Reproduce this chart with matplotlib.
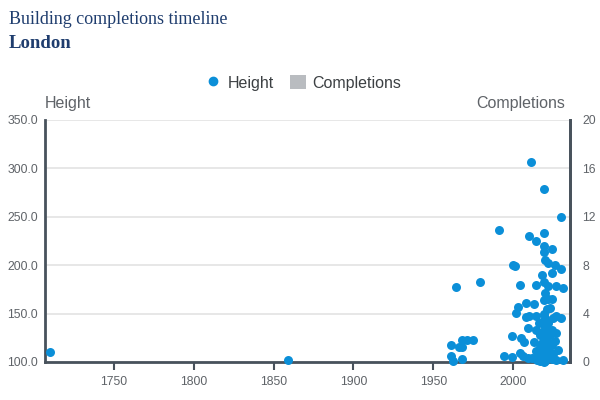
import matplotlib.pyplot as plt
from matplotlib.lines import Line2D
from matplotlib.patches import Patch

# Datos (año de terminación, altura en m)
years = [1710, 1859, 1961, 1961, 1962, 1964, 1966, 1968, 1968, 1968, 1971, 1975, 1979,
         1991, 1994, 1999, 1999, 2000, 2001, 2002, 2003, 2004, 2004, 2005, 2006, 2007,
         2008, 2008, 2009, 2009, 2010, 2010, 2011, 2012, 2013, 2013, 2014, 2014, 2014,
         2014, 2014, 2015, 2016, 2016, 2017, 2017, 2017, 2018, 2018, 2018, 2018, 2018,
         2019, 2019, 2019, 2019, 2019, 2019, 2019, 2019, 2019, 2019, 2019, 2020, 2020,
         2020, 2020, 2020, 2020, 2020, 2021, 2021, 2021, 2021, 2022, 2022, 2022, 2022,
         2022, 2022, 2023, 2023, 2023, 2024, 2024, 2024, 2024, 2024, 2024, 2025, 2025,
         2026, 2026, 2027, 2027, 2027, 2027, 2028, 2030, 2030, 2030, 2031, 2031]
heights = [110, 102, 106, 118, 101, 177, 116, 116, 123, 103, 123, 123, 183,
           236, 106, 105, 127, 200, 199, 151, 157, 180, 109, 125, 106, 121,
           161, 147, 135, 104, 230, 148, 307, 104, 160, 121, 225, 180, 148,
           133, 111, 102, 140, 108, 128, 116, 101, 190, 141, 131, 120, 106,
           279, 233, 220, 214, 183, 164, 150, 125, 113, 103, 100, 205, 171,
           145, 136, 118, 108, 101, 155, 130, 112, 104, 202, 178, 165, 140,
           121, 105, 156, 128, 110, 217, 192, 165, 133, 118, 103, 145, 108,
           200, 122, 178, 148, 130, 102, 112, 250, 196, 145, 176, 102]

x_ticks = [1750, 1800, 1850, 1900, 1950, 2000]
y_ticks = [100, 150, 200, 250, 300, 350]
y2_ticks = [0, 4, 8, 12, 16, 20]

blue = "#0b8fd8"
grey_txt = "#5f6368"
spine_c = "#48525c"
navy = "#1f3d6e"

plt.rcParams['font.family'] = ['Liberation Sans', 'DejaVu Sans']

fig = plt.figure(figsize=(6, 4), dpi=100)
ax = fig.add_axes([0.075, 0.095, 0.875, 0.605])

ax.scatter(years, heights, s=42, color=blue, zorder=5, clip_on=False, linewidths=0)

ax.set_xlim(1707, 2035.5)
ax.set_ylim(100, 350)
ax.set_xticks(x_ticks)
ax.set_yticks(y_ticks)
ax.set_yticklabels([f"{v:.1f}" for v in y_ticks])
ax.grid(axis='y', color='#e3e3e3', linewidth=1.2)
ax.set_axisbelow(True)

for s in ['left', 'bottom', 'right']:
    ax.spines[s].set_color(spine_c)
    ax.spines[s].set_linewidth(2)
ax.spines['top'].set_visible(False)

ax.tick_params(axis='x', colors=spine_c, length=6, width=1.5, labelsize=8.8,
               labelcolor=grey_txt, pad=4)
ax.tick_params(axis='y', length=0, labelsize=8.8, labelcolor=grey_txt, pad=5)

ax2 = ax.twinx()
ax2.set_ylim(0, 20)
ax2.set_yticks(y2_ticks)
ax2.tick_params(axis='y', length=0, labelsize=8.8, labelcolor=grey_txt, pad=9)
for s in ['left', 'bottom', 'top']:
    ax2.spines[s].set_visible(False)
ax2.spines['right'].set_color(spine_c)
ax2.spines['right'].set_linewidth(2)

# Títulos
fig.text(0.015, 0.952, "Building completions timeline", family='Liberation Serif',
         fontsize=13, color=navy, va='center')
fig.text(0.015, 0.89, "London", family='Liberation Serif', fontsize=13.5,
         fontweight='bold', color=navy, va='center')

fig.text(0.075, 0.742, "Height", fontsize=11.5, color=grey_txt, va='center')
fig.text(0.942, 0.742, "Completions", fontsize=11.5, color=grey_txt, va='center', ha='right')

handles = [Line2D([], [], marker='o', linestyle='', color=blue, markersize=6),
           Patch(facecolor='#b9bcc0', edgecolor='none')]
fig.legend(handles, ["Height", "Completions"], loc='center', bbox_to_anchor=(0.505, 0.793),
           ncol=2, frameon=False, fontsize=11.5, handlelength=1.0, handleheight=1.0,
           columnspacing=1.0, handletextpad=0.4, labelcolor='#3c4043')

fig.savefig("out.png", dpi=100)
